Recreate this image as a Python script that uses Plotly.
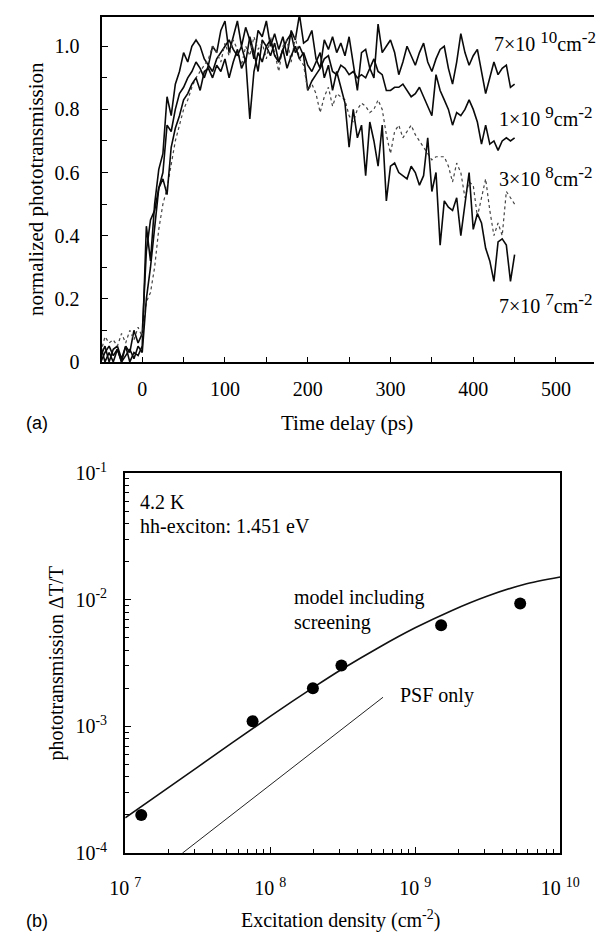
import plotly.graph_objects as go

W, H = 615, 946

# ---------------- Panel (a) data ----------------
time_ps = list(range(-50, 455, 5))

trans_7e10 = [0.02, 0.05, 0.0, 0.04, 0.05, 0.01, 0.05, 0.0, 0.03, 0.02, 0.05,
              0.43, 0.32, 0.5, 0.61, 0.66, 0.84, 0.78, 0.88, 0.92, 0.98,
              0.95, 1.0, 1.02, 1.0, 0.96, 0.94, 1.0, 0.98, 1.05, 1.08,
              0.98, 1.03, 1.08, 1.0, 1.06, 1.02, 0.96, 1.05, 1.03, 1.08,
              1.0, 1.04, 0.99, 1.03, 0.97, 1.05, 1.02, 1.1, 1.01, 1.02,
              1.05, 0.96, 0.93, 1.02, 0.99, 1.03, 0.98, 1.01, 0.97, 1.03,
              0.95, 0.86, 0.98, 0.99, 0.93, 0.9, 1.07, 0.98, 1.0, 1.02,
              0.98, 0.91, 0.95, 1.0, 0.97, 0.94, 0.98, 1.01, 0.95, 0.92,
              0.96, 0.99, 1.0, 0.93, 0.88, 0.95, 1.04, 0.98, 0.94, 0.97,
              0.99, 0.92, 0.85, 0.9, 0.95, 0.91, 0.93, 0.94, 0.87, 0.88]

trans_1e9 = [0.0, 0.03, 0.05, 0.02, 0.04, 0.0, 0.05, 0.03, 0.1, 0.06, 0.09,
             0.35, 0.45, 0.48, 0.55, 0.6, 0.75, 0.73, 0.8, 0.85, 0.87,
             0.9, 0.92, 0.95, 0.93, 0.9, 0.94, 0.92, 0.96, 0.98, 1.0,
             1.02, 0.99, 0.97, 1.0, 0.95, 1.03, 0.98, 0.92, 1.02, 1.0,
             0.97, 1.01, 0.95, 0.99, 1.02, 1.04, 0.98, 1.0, 0.97, 0.86,
             0.89, 0.91, 0.93, 0.96, 0.97, 0.92, 0.91, 0.94, 0.93, 0.91,
             0.92, 0.9, 0.91, 0.9, 0.93, 0.96, 0.92, 0.91, 0.86, 0.86,
             0.87, 0.87, 0.88, 0.86, 0.84, 0.85, 0.87, 0.84, 0.81, 0.78,
             0.91, 0.86, 0.83, 0.8, 0.75, 0.79, 0.78, 0.8, 0.83, 0.8,
             0.76, 0.69, 0.75, 0.69, 0.7, 0.67, 0.7, 0.71, 0.7, 0.71]

trans_3e8 = [0.03, 0.08, 0.06, 0.07, 0.05, 0.09, 0.06, 0.1, 0.07, 0.11, 0.08,
             0.19, 0.22, 0.3, 0.42, 0.5, 0.55, 0.63, 0.7, 0.75, 0.8,
             0.83, 0.87, 0.9, 0.92, 0.94, 0.96, 1.0, 0.98, 0.95, 1.01,
             0.97, 1.02, 0.99, 0.94, 1.0, 0.97, 1.03, 0.99, 1.01, 0.96,
             1.03, 0.98, 0.92, 1.0, 1.02, 0.95, 1.03, 0.96, 0.94, 0.86,
             0.88, 0.85, 0.79, 0.84, 0.87, 0.81, 0.85, 0.84, 0.83, 0.78,
             0.76, 0.8, 0.82, 0.81, 0.79, 0.8, 0.83, 0.8, 0.72, 0.66,
             0.73, 0.75, 0.71, 0.73, 0.75, 0.72, 0.7, 0.68, 0.66, 0.64,
             0.65, 0.65, 0.65, 0.62, 0.57, 0.63, 0.6, 0.52, 0.57, 0.56,
             0.46, 0.52, 0.58, 0.48, 0.4, 0.44, 0.4, 0.54, 0.52, 0.5]

trans_7e7 = [0.05, 0.0, 0.03, 0.0, 0.04, 0.0, 0.02, 0.04, 0.01, 0.05, 0.03,
             0.2, 0.3, 0.42, 0.55, 0.58, 0.53, 0.68, 0.74, 0.78, 0.83,
             0.85, 0.88, 0.9, 0.86, 0.92, 0.93, 0.9, 0.94, 0.92, 0.96,
             0.9, 0.95, 0.99, 0.93, 0.96, 0.77, 0.92, 0.98, 0.95, 1.0,
             1.02, 0.97, 0.95, 0.99, 0.93, 0.97, 1.0, 0.96, 0.98, 0.94,
             0.92, 0.95, 0.98, 0.9, 0.94, 0.86, 0.92, 0.87, 0.82, 0.68,
             0.8, 0.71, 0.75, 0.59, 0.76, 0.7, 0.62, 0.75, 0.51, 0.62,
             0.63, 0.6, 0.59, 0.58, 0.62, 0.6, 0.56, 0.59, 0.71, 0.54,
             0.6, 0.37, 0.51, 0.49, 0.48, 0.52, 0.4, 0.5, 0.6, 0.42,
             0.47, 0.44, 0.36, 0.32, 0.255, 0.38, 0.39, 0.37, 0.255, 0.34]

a_xticks = [0, 100, 200, 300, 400, 500]
a_xminor = [-50, 50, 150, 250, 350, 450]
a_yticks = [0, 0.2, 0.4, 0.6, 0.8, 1.0]
a_yticktext = ["0", "0.2", "0.4", "0.6", "0.8", "1.0"]
a_yminor = [0.1, 0.3, 0.5, 0.7, 0.9]

# ---------------- Panel (b) data ----------------
meas_density = [1.29e7, 7.56e7, 1.97e8, 3.1e8, 1.51e9, 5.3e9]
meas_dTT = [2.0e-4, 1.1e-3, 2.0e-3, 3.03e-3, 6.3e-3, 9.35e-3]

model_density = [1e7, 3.16e7, 1e8, 2e8, 3.16e8, 5.62e8, 1e9, 1.78e9, 3.16e9,
                 5.62e9, 1e10]
model_dTT = [1.9e-4, 4.78e-4, 1.2e-3, 2.04e-3, 2.85e-3, 4.2e-3, 6.0e-3,
             8.2e-3, 1.07e-2, 1.32e-2, 1.51e-2]

psf_density = [2.48e7, 6.0e8]
psf_dTT = [1.0e-4, 1.7e-3]

b_xticks = [1e7, 1e8, 1e9, 1e10]
b_xticktext = ["10 <sup>7</sup>", "10 <sup>8</sup>", "10 <sup>9</sup>", "10 <sup>10</sup>"]
b_yticks = [1e-4, 1e-3, 1e-2, 1e-1]
b_yticktext = ["10<sup>-4</sup>", "10<sup>-3</sup>", "10<sup>-2</sup>", "10<sup>-1</sup>"]
b_xminor = [m * 10 ** e for e in (7, 8, 9) for m in range(2, 10)]
b_yminor = [m * 10.0 ** e for e in (-4, -3, -2) for m in range(2, 10)]

curve_labels = [("7", "10"), ("1", "9"), ("3", "8"), ("7", "7")]

SERIF = "Liberation Serif"
SANS = "Liberation Sans"


def px(x, y):
    return x / W, 1 - y / H


fig = go.Figure()

solid = dict(color="#0a0a0a", width=1.6)
fig.add_trace(go.Scatter(x=time_ps, y=trans_7e10, mode="lines", line=solid,
                         xaxis="x", yaxis="y", showlegend=False))
fig.add_trace(go.Scatter(x=time_ps, y=trans_1e9, mode="lines", line=solid,
                         xaxis="x", yaxis="y", showlegend=False))
fig.add_trace(go.Scatter(x=time_ps, y=trans_3e8, mode="lines",
                         line=dict(color="#444444", width=1.2, dash="dot"),
                         xaxis="x", yaxis="y", showlegend=False))
fig.add_trace(go.Scatter(x=time_ps, y=trans_7e7, mode="lines", line=solid,
                         xaxis="x", yaxis="y", showlegend=False))

fig.add_trace(go.Scatter(x=model_density, y=model_dTT, mode="lines",
                         line=dict(color="#111111", width=1.6, shape="spline",
                                   smoothing=0.8),
                         xaxis="x2", yaxis="y2", showlegend=False))
fig.add_trace(go.Scatter(x=psf_density, y=psf_dTT, mode="lines",
                         line=dict(color="#222222", width=1),
                         xaxis="x2", yaxis="y2", showlegend=False))
fig.add_trace(go.Scatter(x=meas_density, y=meas_dTT, mode="markers",
                         marker=dict(color="black", size=12),
                         xaxis="x2", yaxis="y2", showlegend=False))

tickfont = dict(family=SERIF, size=20, color="black")

fig.update_layout(
    width=W, height=H,
    margin=dict(l=0, r=0, t=0, b=0),
    paper_bgcolor="white", plot_bgcolor="white",
    xaxis=dict(domain=[91 / W, 614 / W], range=[-49, 546],
               tickvals=a_xticks, ticktext=[str(v) for v in a_xticks],
               ticks="inside", ticklen=5, tickwidth=1.4, tickcolor="black",
               minor=dict(tickvals=a_xminor, ticks="inside", ticklen=5,
                          tickwidth=1.4, tickcolor="black"),
               showline=True, linewidth=2.4, linecolor="black", mirror=True,
               showgrid=False, zeroline=False, tickfont=tickfont,
               ticklabelstandoff=8, anchor="y"),
    yaxis=dict(domain=[1 - 358 / H, 1 - 4 / H], range=[0, 1.093],
               tickvals=a_yticks, ticktext=a_yticktext,
               ticks="inside", ticklen=6, tickwidth=1.4, tickcolor="black",
               minor=dict(tickvals=a_yminor, ticks="inside", ticklen=5,
                          tickwidth=1.4, tickcolor="black"),
               showline=True, linewidth=2.4, linecolor="black", mirror=False,
               showgrid=False, zeroline=False, tickfont=tickfont,
               ticklabelstandoff=16, anchor="x"),
    xaxis2=dict(domain=[116 / W, 578 / W], type="log", range=[7, 10],
                tickvals=b_xticks, ticktext=b_xticktext,
                ticks="inside", ticklen=6, tickwidth=1.4, tickcolor="black",
                minor=dict(tickvals=b_xminor, ticks="inside", ticklen=4,
                           tickwidth=1.2, tickcolor="black"),
                showline=True, linewidth=2.2, linecolor="black", mirror=True,
                showgrid=False, zeroline=False, tickfont=tickfont,
                ticklabelstandoff=16, anchor="y2"),
    yaxis2=dict(domain=[1 - 862 / H, 1 - 472 / H], type="log", range=[-4, -1],
                tickvals=b_yticks, ticktext=b_yticktext,
                ticks="inside", ticklen=6, tickwidth=1.4, tickcolor="black",
                minor=dict(tickvals=b_yminor, ticks="inside", ticklen=4,
                           tickwidth=1.2, tickcolor="black"),
                showline=True, linewidth=2.2, linecolor="black", mirror=True,
                showgrid=False, zeroline=False, tickfont=tickfont,
                ticklabelstandoff=12, anchor="x2"),
)

annots = []


def add_text(text, x, y, size=20, family=SERIF, xanchor="center", yanchor="middle",
             angle=0):
    xp, yp = px(x, y)
    annots.append(dict(text=text, x=xp, y=yp, xref="paper", yref="paper",
                       showarrow=False, xanchor=xanchor, yanchor=yanchor,
                       textangle=angle,
                       font=dict(family=family, size=size, color="black")))


def density_label(mant, exp):
    return (f"{mant}×10 <sup><span style='font-size:17px'>{exp}</span></sup>"
            f"cm<sup><span style='font-size:17px'>-2</span></sup>")


# Panel (a) texts
label_pos = [(506, 29), (511, 106), (511, 168), (511, 298)]
for (mant, exp), (lx, ly) in zip(curve_labels, label_pos):
    add_text(density_label(mant, exp), lx, ly, xanchor="left")
add_text("Time delay (ps)", 352, 421, size=21)
add_text("normalized phototransmission", 22, 181, size=21, angle=-90)
add_text("(a)", 9, 421, size=18, family=SANS, xanchor="left")

# Panel (b) texts
add_text("4.2 K", 130, 502, xanchor="left")
add_text("hh-exciton: 1.451 eV", 130, 526, xanchor="left")
add_text("model including", 293, 600, xanchor="left")
add_text("screening", 293, 625, xanchor="left")
add_text("PSF only", 406, 700, xanchor="left")
add_text("phototransmission ΔT/T", 43, 667, angle=-90)
add_text("Excitation density (cm<sup>-2</sup>)", 345, 930)
add_text("(b)", 9, 932, size=18, family=SANS, xanchor="left")

fig.update_layout(annotations=annots)

fig.write_html("out.html")
